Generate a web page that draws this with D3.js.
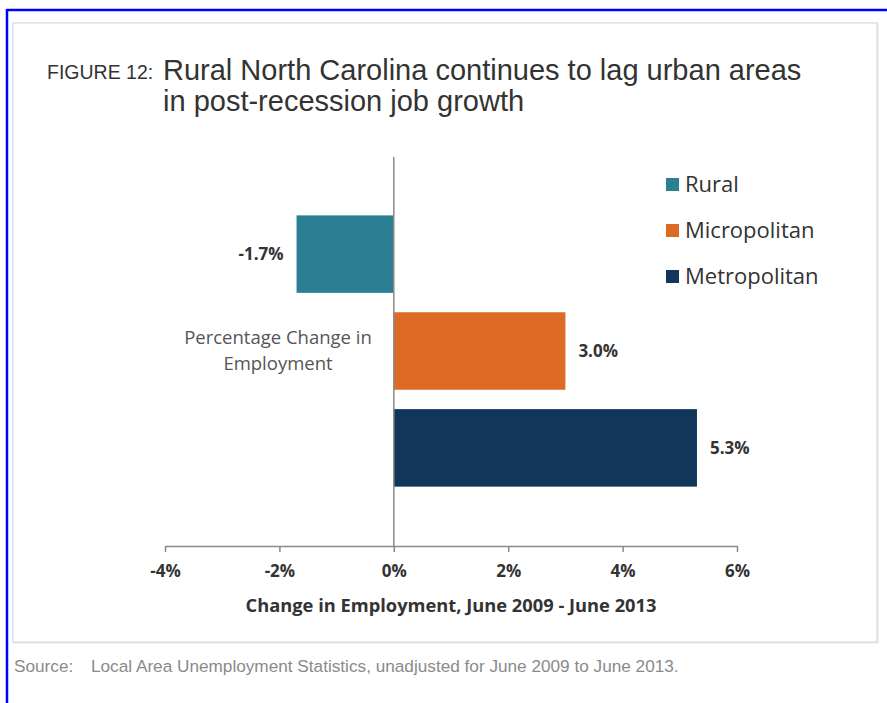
<!DOCTYPE html>
<html>
<head>
<meta charset="utf-8">
<script src="https://cdn.jsdelivr.net/npm/d3@7"></script>
<style>
  html, body { margin: 0; padding: 0; background: #fff; }
  svg { display: block; }
</style>
</head>
<body>
<svg id="chart" width="887" height="703"></svg>
<script>
const categories = ["Rural", "Micropolitan", "Metropolitan"];
const values = [-1.7, 3.0, 5.3];
const valueLabels = ["-1.7%", "3.0%", "5.3%"];
const colors = ["#2a7f93", "#dd6b25", "#12355a"];
const xTicks = [-4, -2, 0, 2, 4, 6];

const svg = d3.select("#chart");

// outer blue frame (top and left)
svg.append("line").attr("x1", 7).attr("x2", 887).attr("y1", 10).attr("y2", 10)
  .attr("stroke", "#0000ff").attr("stroke-width", 2.5);
svg.append("line").attr("x1", 7).attr("x2", 7).attr("y1", 9).attr("y2", 703)
  .attr("stroke", "#0000ff").attr("stroke-width", 2.5);

// inner light box
svg.append("rect").attr("x", 14).attr("y", 24).attr("width", 863).attr("height", 618)
  .attr("fill", "none").attr("stroke", "#e9e9e9").attr("stroke-width", 3);
svg.append("rect").attr("x", 13).attr("y", 23).attr("width", 864).attr("height", 619)
  .attr("fill", "#fff").attr("stroke", "#d6d6d6").attr("stroke-width", 1);

const sans = "Liberation Sans, Arial, sans-serif";
const font = "'Open Sans', Lato, sans-serif";

// title
svg.append("text").attr("x", 47).attr("y", 79)
  .attr("font-family", sans).attr("font-size", 19.5)
  .attr("fill", "#333").text("FIGURE 12:");
const title = svg.append("text").attr("font-family", sans)
  .attr("font-size", 29).attr("fill", "#333");
title.append("tspan").attr("x", 163).attr("y", 80).text("Rural North Carolina continues to lag urban areas");
title.append("tspan").attr("x", 163).attr("y", 111).text("in post-recession job growth");

// scales
const x = d3.scaleLinear().domain([-4, 6]).range([165, 737]);
const y = d3.scaleBand().domain(categories).range([196, 506]).paddingInner(0.2).paddingOuter(0.2);

const axisY = 546;

// bars
svg.selectAll("rect.bar").data(categories).enter().append("rect")
  .attr("class", "bar")
  .attr("x", (d, i) => x(Math.min(0, values[i])))
  .attr("y", d => y(d))
  .attr("width", (d, i) => Math.abs(x(values[i]) - x(0)))
  .attr("height", y.bandwidth())
  .attr("fill", (d, i) => colors[i]);

// zero line
svg.append("line").attr("x1", x(0)).attr("x2", x(0)).attr("y1", 157).attr("y2", axisY)
  .attr("stroke", "#8a8a8a").attr("stroke-width", 1.5);

// x axis
const axis = svg.append("g").attr("transform", `translate(0,${axisY})`)
  .call(d3.axisBottom(x).tickValues(xTicks).tickSize(6).tickSizeOuter(0).tickPadding(13)
    .tickFormat(d => d + "%"));
axis.select(".domain").attr("stroke", "#8a8a8a").attr("stroke-width", 1.5);
axis.selectAll(".tick line").attr("stroke", "#8a8a8a").attr("stroke-width", 1.5);
axis.selectAll(".tick text").attr("font-family", font).attr("font-weight", "bold")
  .attr("font-size", 17).attr("fill", "#333");

svg.append("text").attr("x", 451).attr("y", 612).attr("text-anchor", "middle")
  .attr("font-family", font).attr("font-weight", "bold").attr("font-size", 18.3).attr("fill", "#333")
  .text("Change in Employment, June 2009 - June 2013");

// value labels
svg.selectAll("text.vlab").data(categories).enter().append("text")
  .attr("class", "vlab")
  .attr("x", (d, i) => values[i] < 0 ? x(values[i]) - 13 : x(values[i]) + 13)
  .attr("y", d => y(d) + y.bandwidth() / 2 + 6)
  .attr("text-anchor", (d, i) => values[i] < 0 ? "end" : "start")
  .attr("font-family", font).attr("font-weight", "bold").attr("font-size", 17).attr("fill", "#333")
  .text((d, i) => valueLabels[i]);

// y-axis caption
const cap = svg.append("text").attr("text-anchor", "middle").attr("font-family", font)
  .attr("font-size", 18.5).attr("fill", "#555");
cap.append("tspan").attr("x", 278).attr("y", 344).text("Percentage Change in");
cap.append("tspan").attr("x", 278).attr("y", 370).text("Employment");

// legend
const leg = svg.selectAll("g.leg").data(categories).enter().append("g")
  .attr("class", "leg")
  .attr("transform", (d, i) => `translate(666,${178 + i * 46})`);
leg.append("rect").attr("width", 13).attr("height", 13).attr("fill", (d, i) => colors[i]);
leg.append("text").attr("x", 19).attr("y", 14).attr("font-family", font).attr("font-size", 22)
  .attr("fill", "#333").text(d => d);

// source
svg.append("text").attr("x", 14).attr("y", 672).attr("font-family", sans)
  .attr("font-size", 17.2).attr("fill", "#8a8a8a").text("Source:");
svg.append("text").attr("x", 91).attr("y", 672).attr("font-family", sans)
  .attr("font-size", 17.2).attr("fill", "#8a8a8a")
  .text("Local Area Unemployment Statistics, unadjusted for June 2009 to June 2013.");
</script>
</body>
</html>
